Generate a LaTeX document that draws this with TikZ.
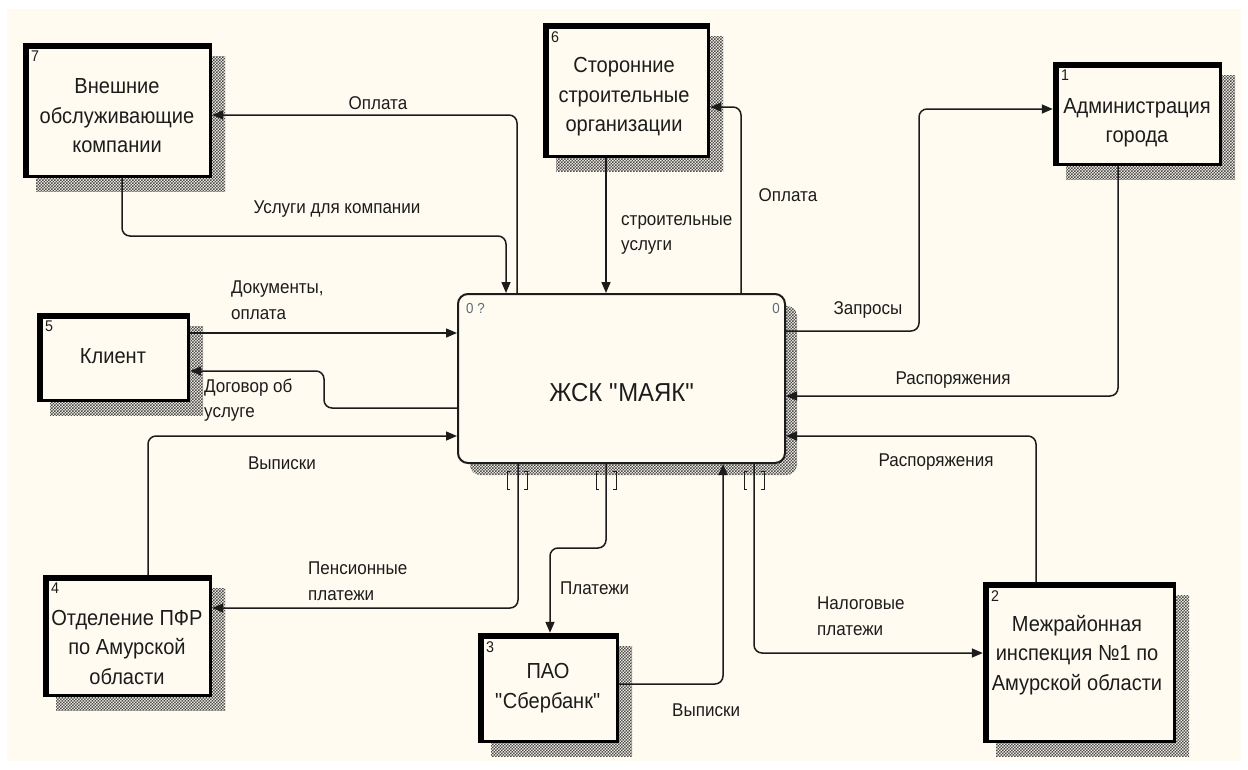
\documentclass[tikz,border=0pt]{standalone}
\usepackage{fontspec}
\setmainfont{Liberation Sans}[FakeStretch=0.92]
\usetikzlibrary{arrows.meta,patterns}

\definecolor{paper}{RGB}{255,251,241}
\definecolor{ink}{RGB}{28,28,28}
\definecolor{tagblue}{RGB}{95,105,125}

% fine checker used for the drop shadows
\pgfdeclarepatternformonly{idefshade}{\pgfqpoint{-0.1pt}{-0.1pt}}{\pgfqpoint{3.1pt}{3.1pt}}{\pgfqpoint{3pt}{3pt}}{%
  \pgfpathrectangle{\pgfqpoint{0pt}{0pt}}{\pgfqpoint{1.5pt}{1.5pt}}%
  \pgfpathrectangle{\pgfqpoint{1.5pt}{1.5pt}}{\pgfqpoint{1.5pt}{1.5pt}}%
  \pgfusepath{fill}}

\newcommand\qq{\textquotedbl}

\tikzset{
  shadowfill/.style={pattern=idefshade, pattern color=black!70},
  flow/.style={draw=ink, line width=1.5pt, rounded corners=8pt,
               -{Triangle[length=11pt,width=9pt]}},
  lbl/.style={font=\fontsize{18.5}{25.5}\selectfont, text=ink, inner sep=0pt},
  mlbl/.style={lbl, align=left, anchor=west},
  boxtxt/.style={font=\fontsize{21.8}{29.5}\selectfont, text=ink, inner sep=0pt, align=center},
  numtag/.style={font=\fontsize{15.5}{17}\selectfont, text=ink, inner sep=0pt, anchor=north west},
  entitybox/.style={fill=paper, draw=none, inner sep=0pt},
  bracket/.style={draw=ink, line width=1pt},
}

% external entity: name, left, top, right, bottom, number
\newcommand\ExtEntity[6]{%
  \fill[shadowfill] ({#2+13},{#3+13}) rectangle ({#4+13},{#5+13});
  \node[entitybox, minimum width={#4-#2}, minimum height={#5-#3}] (#1) at ({(#2+#4)/2},{(#3+#5)/2}) {};
  \draw[line width=3pt, draw=black] ([xshift=1.5pt,yshift=1.5pt]#1.south west) rectangle ([xshift=-1.5pt,yshift=-1.5pt]#1.north east);
  \draw[line width=6pt, draw=black] ([xshift=3pt]#1.south west) -- ([xshift=3pt,yshift=-3pt]#1.north west) -- ([yshift=-3pt]#1.north east);
  \node[numtag] (#1-num) at ({#2+8},{#3+8}) {#6};
}

% tunnel brackets around a connector leaving the bottom of the main box
\newcommand\Tunnel[1]{%
  \draw[bracket] ({#1-7},471) -- ({#1-10},471) -- ({#1-10},489) -- ({#1-7},489);
  \draw[bracket] ({#1+7},471) -- ({#1+10},471) -- ({#1+10},489) -- ({#1+7},489);
}

\begin{document}
\begin{tikzpicture}[x=1pt,y=-1pt]
\useasboundingbox (0,0) rectangle (1248,769);
\fill[white] (0,0) rectangle (1248,769);
\fill[paper] (7,9) rectangle (1241,761);

% ---- external entities ----
\ExtEntity{b7}{23}{43}{212}{178}{7}
\node[boxtxt] (b7-t) at (117,116) {Внешние\\обслуживающие\\компании};

\ExtEntity{b6}{543}{23}{710}{158}{6}
\node[boxtxt] (b6-t) at (624,97) {Сторонние\\строительные\\организации};

\ExtEntity{b1}{1053}{62}{1222}{166}{1}
\node[boxtxt] (b1-t) at (1137,123) {Администрация\\города};

\ExtEntity{b5}{37}{313}{190}{402}{5}
\node[boxtxt] (b5-t) at (113,356) {Клиент};

\ExtEntity{b4}{43}{575}{212}{697}{4}
\node[boxtxt] (b4-t) at (127,647) {Отделение ПФР\\по Амурской\\области};

\ExtEntity{b3}{478}{633}{619}{743}{3}
\node[boxtxt] (b3-t) at (548,688) {ПАО\\\qq Сбербанк\qq};

\ExtEntity{b2}{983}{582}{1176}{743}{2}
\node[boxtxt] (b2-t) at (1077,655) {Межрайонная\\инспекция №1 по\\Амурской области};

% ---- main process ----
\fill[shadowfill, rounded corners=10pt] (470,306) rectangle (797,475);
\node[draw=ink, fill=paper, line width=2pt, rounded corners=10pt,
      minimum width=327, minimum height=169, inner sep=0pt] (main) at (621.5,378.5) {};
\node[font=\fontsize{26}{30}\selectfont, text=ink, inner sep=0pt] (main-t) at (622,393) {ЖСК \qq МАЯК\qq};
\node[font=\fontsize{14.5}{16}\selectfont, text=tagblue, inner sep=0pt, anchor=west] (main-id) at (466,309) {0 ?};
\node[font=\fontsize{14.5}{16}\selectfont, text=tagblue, inner sep=0pt, anchor=east] (main-no) at (780,309) {0};

\Tunnel{517}
\Tunnel{606}
\Tunnel{754}

% ---- connectors ----
\draw[flow] (main.north -| 517,0) -- (517,115) -- (b7.east |- 0,115);
\node[lbl] (l-opl1) at (378,103) {Оплата};

\draw[flow] (b7.south -| 122,0) -- (122,236) -- (506,236) -- (main.north -| 506,0);
\node[lbl] (l-usl) at (337,209) {Услуги для компании};

\draw[flow] (b6.south -| 606,0) -- (main.north -| 606,0);
\node[mlbl] (l-str) at (621,235) {строительные\\услуги};

\draw[flow] (main.north -| 741,0) -- (741,107) -- (b6.east |- 0,107);
\node[lbl] (l-opl2) at (788,195) {Оплата};

\draw[flow] (main.east |- 0,331) -- (919,331) -- (919,109) -- (b1.west |- 0,109);
\node[lbl] (l-zap) at (868,310) {Запросы};

\draw[flow] (b1.south -| 1118,0) -- (1118,396) -- (main.east |- 0,396);
\node[lbl] (l-rasp1) at (953,380) {Распоряжения};

\draw[flow] (b2.north -| 1036,0) -- (1036,436) -- (main.east |- 0,436);
\node[lbl] (l-rasp2) at (936,462) {Распоряжения};

\draw[flow] (b5.east |- 0,333) -- (main.west |- 0,333);
\node[mlbl] (l-dok) at (231,300) {Документы,\\оплата};

\draw[flow] (main.west |- 0,408) -- (324,408) -- (324,371) -- (b5.east |- 0,371);
\node[mlbl] (l-dog) at (204,400) {Договор об\\услуге};

\draw[flow] (b4.north -| 148,0) -- (148,436) -- (main.west |- 0,436);
\node[lbl] (l-vyp1) at (282,463) {Выписки};

\draw[flow] (main.south -| 518,0) -- (518,608) -- (b4.east |- 0,608);
\node[mlbl] (l-pens) at (308,581) {Пенсионные\\платежи};

\draw[flow] (main.south -| 606,0) -- (606,548) -- (550,548) -- (b3.north -| 550,0);
\node[lbl, anchor=west] (l-plat) at (560,588) {Платежи};

\draw[flow] (b3.east |- 0,684) -- (723,684) -- (main.south -| 723,0);
\node[lbl, anchor=west] (l-vyp2) at (672,710) {Выписки};

\draw[flow] (main.south -| 754,0) -- (754,653) -- (b2.west |- 0,653);
\node[mlbl] (l-nal) at (817,616) {Налоговые\\платежи};
\end{tikzpicture}
\end{document}
